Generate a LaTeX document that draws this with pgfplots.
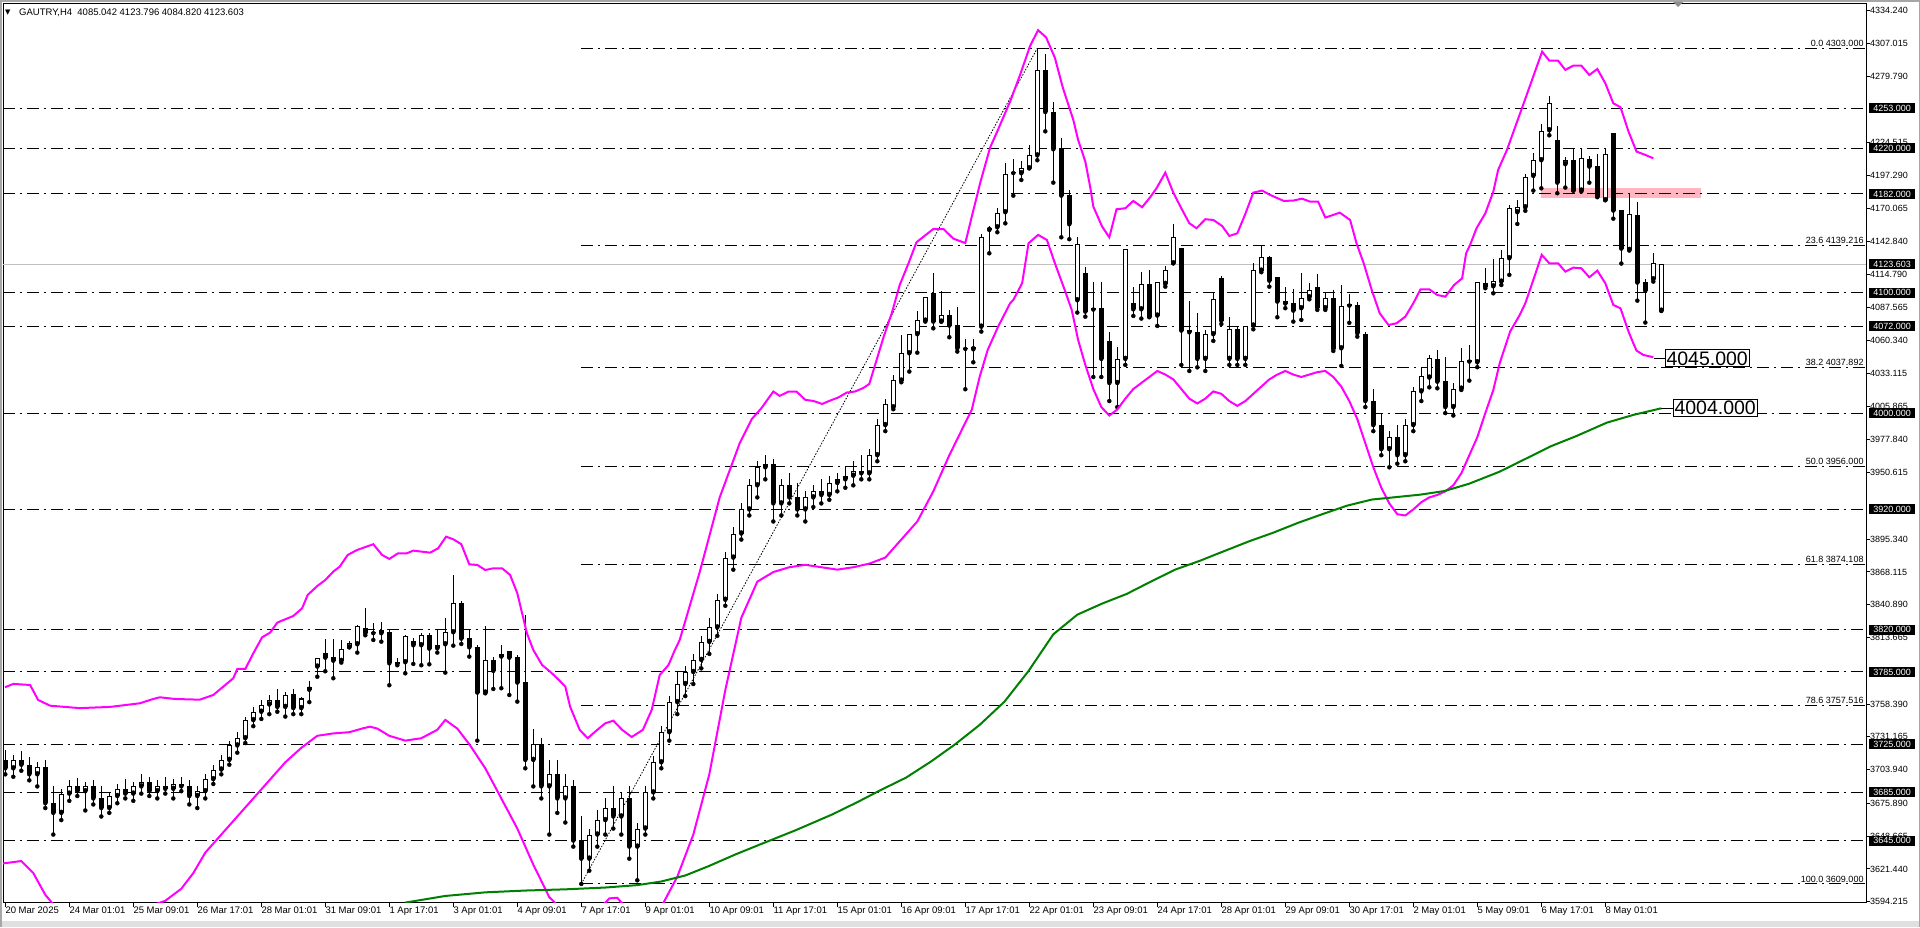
\documentclass[border=0pt]{standalone}
\usepackage{fontspec}
\setmainfont{Liberation Sans}
\newfontfamily\dejavu{DejaVu Sans}
\usepackage{pgfplots}
\usepackage{pgfplotstable}
\pgfplotsset{compat=1.18}
\definecolor{bandmag}{RGB}{255,0,255}
\definecolor{magreen}{RGB}{0,128,0}
\definecolor{zonepink}{RGB}{255,182,193}
\definecolor{bidgray}{RGB}{192,192,192}

\pgfplotstableread{
i o h l c
0 3712 3720 3700 3705
1 3705 3716 3698 3712
2 3712 3719 3703 3708
3 3708 3714 3695 3700
4 3700 3710 3690 3706
5 3706 3712 3672 3676
6 3676 3690 3650 3668
7 3668 3688 3662 3684
8 3684 3695 3678 3690
9 3690 3697 3682 3686
10 3686 3694 3670 3690
11 3690 3695 3675 3680
12 3680 3690 3665 3672
13 3672 3685 3668 3682
14 3682 3692 3676 3688
15 3688 3696 3680 3684
16 3684 3694 3678 3690
17 3690 3700 3684 3694
18 3694 3698 3682 3686
19 3686 3695 3680 3690
20 3690 3698 3684 3688
21 3688 3696 3680 3692
22 3692 3698 3686 3690
23 3690 3695 3675 3682
24 3682 3690 3672 3686
25 3686 3700 3680 3696
26 3696 3708 3692 3704
27 3704 3716 3700 3712
28 3712 3728 3708 3724
29 3724 3735 3718 3730
30 3730 3748 3726 3745
31 3745 3756 3740 3752
32 3752 3762 3746 3758
33 3758 3766 3750 3762
34 3762 3771 3752 3756
35 3756 3768 3748 3766
36 3767 3771 3750 3755
37 3755 3764 3750 3763
38 3770.3 3777.6 3760 3772.3
39 3789.5 3796.4 3781.1 3796.4
40 3800.5 3812.2 3785.6 3796.9
41 3797.8 3812.2 3779.8 3794.4
42 3794.2 3811.6 3792.8 3803.9
43 3805.5 3810.8 3805.5 3809.1
44 3808.0 3824.1 3801.1 3822.9
45 3821.6 3837.9 3815.5 3817.2
46 3817.2 3826.0 3811.6 3817.4
47 3817.2 3826.8 3810.2 3819.9
48 3818.5 3820.5 3774.0 3792.2
49 3793.6 3796.9 3790.6 3791.7
50 3793.1 3815.8 3783.9 3814.9
51 3810.8 3813.6 3791.7 3807.2
52 3807.2 3817.7 3790.6 3815.5
53 3815.5 3817.7 3791.4 3804.4
54 3804.7 3820.5 3801.1 3807.2
55 3808.0 3829.6 3784.5 3818.0
56 3818.0 3865.6 3806.9 3842.1
57 3842.1 3844.0 3808.3 3812.7
58 3813.3 3820.5 3797.8 3805.5
59 3805.5 3807.5 3728 3767.9
60 3767.9 3823.5 3767.3 3795.0
61 3795.0 3797.8 3770.9 3785.9
62 3799.7 3807.5 3771.5 3797.8
63 3802.5 3802.5 3765.9 3796.9
64 3797.5 3799.1 3760.4 3776.2
65 3776.7 3832.4 3705 3712
66 3712 3738 3690 3725
67 3725 3730 3680 3690
68 3690 3712 3650 3700
69 3700 3712 3668 3680
70 3680 3700 3660 3690
71 3690 3695 3640 3645
72 3645 3665 3609 3630
73 3630 3655 3620 3650
74 3650 3670 3640 3662
75 3662 3680 3650 3672
76 3672 3690 3655 3665
77 3665 3685 3650 3680
78 3680 3690 3630 3640
79 3640 3660 3612 3655
80 3655 3690 3650 3685
81 3685 3715 3680 3710
82 3710 3740 3705 3735
83 3735 3765 3728 3760
84 3760 3785 3750 3775
85 3775 3790 3765 3785
86 3785 3800 3775 3795
87 3795 3815 3788 3810
88 3810 3830 3800 3822
89 3822 3850 3815 3845
90 3845 3885 3840 3880
91 3880 3905 3870 3900
92 3900 3925 3895 3920
93 3920 3945 3915 3940
94 3940 3960 3930 3955
95 3955 3965 3945 3958
96 3958 3962 3910 3925
97 3925 3945 3915 3940
98 3940 3950 3925 3930
99 3930 3942 3915 3920
100 3920 3935 3910 3930
101 3930 3940 3922 3935
102 3935 3945 3925 3932
103 3932 3948 3928 3942
104 3942 3950 3935 3945
105 3945 3955 3938 3948
106 3948 3960 3940 3952
107 3952 3965 3945 3950
108 3950 3970 3945 3965
109 3965 3995 3960 3990
110 3990 4011.5 3985 4007.3
111 4004.8 4031.7 4003.2 4027.2
112 4027.0 4064.9 4025.6 4049.7
113 4049.7 4065.5 4034.5 4065.5
114 4065.5 4084.8 4050.2 4077.1
115 4076.8 4096.2 4076.0 4096.2
116 4099.8 4116.1 4070.4 4076.0
117 4076.0 4101.5 4076.0 4081.2
118 4081.2 4085.4 4063.0 4072.7
119 4072.9 4087.9 4051.1 4053.8
120 4053.3 4061.3 4019.8 4053.5
121 4053.0 4061.3 4042.2 4055.2
122 4071.8 4148.8 4067.7 4146.6
123 4152.1 4155.4 4132.7 4154.0
124 4154.3 4170.1 4150.2 4166.5
125 4166.8 4207.5 4157.6 4198.3
126 4199.3 4210.8 4180.6 4199.7
127 4199.2 4209.1 4193.6 4203.3
128 4203.3 4222.7 4203.3 4214.1
129 4214 4303 4210 4285
130 4285 4298 4234 4250
131 4250 4258 4191.4 4219.1
132 4219.1 4228.2 4146.0 4180.6
133 4181.2 4185 4144.4 4156.8
134 4093.7 4146.0 4083.5 4140.2
135 4116.1 4121.7 4080.1 4084.3
136 4086.5 4108.6 4030 4086.0
137 4087.1 4108.6 4030 4045
138 4060 4067.7 4010 4025
139 4025 4055 4005 4045
140 4045 4136.1 4040 4136.1
141 4091.5 4105.0 4080.7 4086.2
142 4086.2 4117.0 4078.5 4107.0
143 4107.0 4118.9 4079.6 4080.1
144 4081.0 4108.7 4072.4 4108.7
145 4107.3 4122.2 4105.0 4118.6
146 4124.4 4156.8 4124.4 4146.0
147 4137.4 4137.4 4040 4068.5
148 4069.1 4093.2 4035 4067.1
149 4067.4 4083.5 4038 4045
150 4045 4069.1 4035 4065.5
151 4065.5 4099.5 4060 4094.8
152 4112.0 4113.9 4074.0 4076.8
153 4045 4079.9 4040 4069.6
154 4069.6 4072 4040 4045
155 4045 4072.4 4040 4072.4
156 4072.7 4124.4 4069.6 4118.6
157 4118.3 4139.4 4117.0 4129.4
158 4129.7 4130.5 4105.0 4110.0
159 4112.8 4112.8 4079.6 4092.6
160 4093.2 4105.0 4087.1 4091.0
161 4091.5 4102.8 4076.0 4085.1
162 4087.1 4116.1 4077.4 4095.4
163 4096.2 4108.4 4094.5 4102.0
164 4104.5 4115.6 4085.7 4087.6
165 4087.1 4100.9 4085.7 4095.4
166 4095.4 4102.3 4051.6 4053.3
167 4053.8 4106.4 4039.2 4088.7
168 4089.3 4099.0 4075.0 4089.6
169 4089.5 4092.3 4063.5 4066.3
170 4065.7 4067.1 4005 4010
171 4010 4020 3985 3990
172 3990 4000 3965 3970
173 3970 3985 3955 3980
174 3980 3990 3958 3965
175 3965 3995 3960 3990
176 3990 4022 3985 4018
177 4018 4038.1 4010 4030.6
178 4029.5 4048.3 4021.4 4045.6
179 4044.7 4052.2 4020.6 4026.1
180 4027.0 4046.6 4000 4005
181 4005 4025 3998 4020
182 4020.3 4053.8 4019.2 4043.0
183 4042.8 4056.6 4027.0 4043.0
184 4042.2 4108.6 4038.1 4108.6
185 4107.8 4120.6 4103.7 4105.0
186 4105.3 4128.0 4099.5 4109.5
187 4109.2 4135.5 4106.4 4128.6
188 4128.6 4172.9 4114.8 4170.1
189 4166.8 4177.0 4157.1 4170.9
190 4170.9 4198.6 4168.0 4195.9
191 4197.0 4215.8 4184.8 4210.0
192 4210.0 4240.2 4186.7 4234.1
193 4234.9 4263.4 4230.7 4257.3
194 4226.9 4238.5 4182.6 4191.4
195 4206.7 4213.0 4187.3 4210.0
196 4210.0 4219.9 4184.8 4184.8
197 4184.8 4219.9 4184.0 4211.9
198 4211.1 4213.6 4191.4 4204.7
199 4205.3 4215.0 4179.3 4179.8
200 4176.8 4219.9 4176.8 4215.0
201 4232.4 4232.4 4161.5 4168.2
202 4168.5 4168.5 4124.2 4136.6
203 4135.5 4182.6 4135.0 4165.1
204 4164.3 4175.1 4093.4 4108.4
205 4108.7 4111.4 4075.2 4101.7
206 4111.1 4132.7 4109.2 4124.4
207 4085.042 4123.796 4084.820 4123.603
}\ohlc

\pgfplotstableread{
i p
-0.04 3772.3
1.0 3775.1
3.1 3774.2
4.1 3761.8
5.6 3757
9.3 3755
13.1 3756
16.8 3759
18.3 3762.2
19.3 3764.0
21.2 3762.6
24.3 3762.0
26.0 3765.9
28.5 3779.8
29.0 3787.5
30.0 3787.5
31.0 3800.5
32.1 3813.8
33.1 3817.7
34.0 3826.0
34.6 3827.7
36.0 3831.5
37.1 3837.9
37.8 3849.0
39.0 3856.4
40.0 3861.4
41.0 3868.4
41.8 3872.5
42.8 3882.2
44.0 3886.4
46.0 3891.1
47.1 3882.2
48.0 3878.9
49.1 3883.6
50.2 3883.6
51.0 3885.8
53.1 3884.1
54.1 3887.7
55.1 3897.4
56.0 3895.2
57.0 3891.1
58.0 3874.4
59.0 3873.9
60.0 3869.7
61.0 3871.1
62.1 3871.1
63.1 3865.6
64.0 3850.4
64.6 3833.8
65.2 3817.2
66.0 3803.3
67.1 3790.8
68.1 3785.3
69.1 3779.0
70.0 3772.9
70.6 3756.2
71.2 3746.6
71.8 3736.9
72.8 3730
74.0 3737
75.0 3742.4
76.0 3744.6
77.1 3737
78.3 3731
79.7 3737
80.8 3753.5
81.8 3782.5
82.9 3790.8
83.7 3803.3
84.3 3811.6
86.8 3868
89.3 3930
91.8 3975
93.3 3995
94.5 4004.0
96.0 4017.9
96.8 4014.3
97.9 4017.9
98.9 4017.9
100.0 4011.0
101.0 4010.1
102.1 4007.6
103.1 4010.4
104.1 4012.9
105.2 4017.1
106.2 4017.9
107.2 4020.7
108.0 4024.2
109.8 4063.5
110.8 4082.8
111.8 4106.4
112.9 4124.4
113.9 4141.9
116.0 4152.9
117.3 4152.7
118.5 4144.9
120.0 4141.2
121.0 4168.3
121.9 4192.2
123.1 4220.5
124.1 4235.5
125.6 4258.8
126.8 4280
128.1 4305
129.1 4318
130.1 4312
131.2 4295
132.2 4270
133.5 4243.5
134.1 4226.9
135.0 4208.9
135.6 4188.1
136.0 4171.5
137.1 4154.9
138.0 4146.0
138.9 4169.3
140.0 4170.1
141.0 4176.2
142.1 4171.0
143.1 4179.2
143.9 4186.7
145.0 4199.7
146.0 4183.1
147.0 4170.1
148.0 4157.7
148.9 4153.5
150.0 4161.0
151.0 4160.4
152.1 4155.4
153.0 4147.1
154.0 4149.3
155.0 4165.4
156.0 4183.1
157.1 4184.8
158.1 4181.2
159.8 4176.2
161.0 4176.5
162.1 4178.1
163.1 4175.6
164.1 4175.6
165.0 4162.4
166.0 4164.6
166.8 4166.5
168.1 4160.4
168.9 4141.0
169.8 4124.4
170.8 4102.3
171.8 4082.9
172.9 4073.2
173.9 4074.6
175.0 4080.1
176.0 4091.2
176.9 4102.8
178.0 4102.8
179.0 4098.1
180.0 4096.7
181.1 4106.4
182.1 4111.9
182.6 4132.7
183.1 4139.7
183.9 4153.5
185.0 4165.9
186.0 4183.9
186.6 4201.9
187.7 4218.5
189.8 4257.3
192.1 4300.2
193.0 4292.7
194.1 4292.7
195.0 4285.0
196.0 4288.6
197.0 4288.6
198.0 4280.8
199.0 4285.8
200.0 4273.9
201.0 4257.3
201.9 4254.0
202.9 4233.8
203.9 4217.2
205.0 4214.4
206.0 4211.6
}\upperband

\pgfplotstableread{
i p
-0.3 3626
2 3628
3.5 3618
5 3600
6.5 3588
9 3583
13 3585
17 3588
20 3595
22 3605
23.5 3618
25 3635
27 3650
29 3665
31 3680
33 3695
35 3710
37 3722
39 3732
41 3734
43 3735
44.7 3738.2
45.6 3739.6
46.5 3738
48 3732
50 3728
52 3730
54 3737
55 3745.2
56.5 3738
58 3725
60 3705
62 3680
64 3655
66 3625
68 3598
70 3585
72 3580
74 3586
75.5 3597
76.5 3597.5
78 3586
80 3578
82 3590
84 3615
86 3650
88 3700
90 3770
92 3830
94 3860
96 3868
98 3872
100 3874
102 3872
104 3870
106 3872
108 3875
110 3880
112 3895
114 3910
116 3935
118 3965
120 3992
120.8 4002.6
121.8 4030.3
122.8 4052.5
124.1 4071.8
125.6 4091.2
126.0 4094.0
127.1 4107.8
127.9 4141.0
129.1 4148.0
130.2 4143.8
131.2 4124.4
132.5 4100.9
133.3 4085.7
134.1 4060.8
135 4040
136 4020
137 4005
138 3998
139 4003
140 4012
141 4020
142 4025
143 4030
144 4035
145 4032
146 4028
147 4020
148 4012
149 4008
150 4012
151 4018
152 4016
153 4010
154 4006
155 4010
156 4016
157 4022
158 4028
159 4032
160 4035
161 4032
162 4030
163 4032
164 4034
165 4035
166 4030
167 4022
168 4010
169 3995
170 3975
171 3955
172 3938
173 3925
174 3916
175 3915
176 3920
177 3926
178 3930
179 3932
180 3935
181 3940
182 3950
183 3965
184 3980
185 4000
186 4019.2
186.8 4041.4
188.1 4067.7
189.3 4081.5
190.0 4091.2
191.0 4110.6
192.05 4131.4
193.0 4124.4
194.1 4124.4
195.0 4117.5
196.0 4120.8
197.0 4120.3
198.0 4112.8
199.0 4118.3
200.0 4107.8
201.0 4089.8
201.9 4087.0
202.9 4067.7
203.5 4058.0
203.9 4051.9
204.75 4048.3
206.0 4046.4
}\lowerband

\pgfplotstableread{
i p
50.0 3593.5
55.0 3599.0
60.0 3602.0
65.0 3603.5
70.0 3604.5
75.0 3606.0
79.0 3608.0
82.0 3611.0
85.0 3616.0
88.0 3624.0
91.2 3633.3
94.2 3641.4
98.8 3653.6
103.4 3666.8
106.5 3676.9
109.5 3687.2
112.6 3697.3
115.7 3710.6
118.7 3724.8
121.8 3741.1
124.9 3760.4
127.9 3785.8
131.0 3816.3
134.0 3832.6
137.1 3841.8
140.2 3849.9
143.2 3860.1
146.3 3870.2
149.3 3877.3
152.4 3885.5
155.5 3893.6
158.5 3900.7
161.6 3908.9
164.6 3916.0
167.7 3923.1
170.8 3928.2
173.8 3930.2
176.9 3932.3
179.9 3935.3
183.0 3941.4
186.8 3951.4
191.0 3965.2
193.1 3972.2
196.4 3981.0
200.2 3992.1
203.5 3998.5
207.0 4004.0
}\mavg

\tikzset{
  lvl/.style={black, line width=1pt, dash pattern=on 12pt off 5pt on 2pt off 5pt},
  boxlab/.style={fill=black, text=white, inner sep=0pt, minimum width=46pt, minimum height=10pt,
    font=\fontsize{9}{9}\selectfont, anchor=west, xshift=3pt},
  fiblab/.style={anchor=south east, inner sep=0pt, yshift=1.5pt, font=\fontsize{9}{9}\selectfont},
  biglab/.style={anchor=west, draw=black, line width=1pt, fill=white, inner sep=1.5pt,
    font=\fontsize{19.5}{20}\selectfont}
}

\begin{document}
\begin{tikzpicture}[x=1pt,y=1pt]
\fill[white] (0,0) rectangle (1920,927);
\fill[black!12] (0,0) rectangle (1920,6);
\fill[black!35] (0,925) rectangle (1920,927);
\fill[black!35] (0,0) rectangle (1.5,927);
\fill[black!35] (1918.5,0) rectangle (1920,927);
\useasboundingbox (0,0) rectangle (1920,927);
\begin{axis}[at={(3pt,24pt)}, anchor=south west, scale only axis,
  width=1863pt, height=899pt,
  xmin=-0.2875, xmax=232.5875, ymin=3593.2, ymax=4339.8,
  axis line style={line width=1pt}, clip mode=individual,
  tick align=outside, xtick pos=bottom, ytick pos=right, yticklabel pos=right,
  major tick length=4pt, tick style={black, line width=1pt},
  xtick={0,8,...,200},
  xticklabels={20 Mar 2025,24 Mar 01:01,25 Mar 09:01,26 Mar 17:01,28 Mar 01:01,31 Mar 09:01,1 Apr 17:01,3 Apr 01:01,4 Apr 09:01,7 Apr 17:01,9 Apr 01:01,10 Apr 09:01,11 Apr 17:01,15 Apr 01:01,16 Apr 09:01,17 Apr 17:01,22 Apr 01:01,23 Apr 09:01,24 Apr 17:01,28 Apr 01:01,29 Apr 09:01,30 Apr 17:01,2 May 01:01,5 May 09:01,6 May 17:01,8 May 01:01},
  x tick label style={anchor=north west, inner sep=0pt, xshift=0pt, font=\fontsize{9.5}{10}\selectfont},
  ytick={3594.215,3621.44,3648.665,3675.89,3703.94,3731.165,3758.39,3813.665,3840.89,3868.115,3895.34,3950.615,3977.84,4005.865,4033.115,4060.34,4087.565,4114.79,4142.84,4170.065,4197.29,4224.515,4279.79,4307.015,4334.24},
  yticklabels={3594.215,3621.440,3648.665,3675.890,3703.940,3731.165,3758.390,3813.665,3840.890,3868.115,3895.340,3950.615,3977.840,4005.865,4033.115,4060.340,4087.565,4114.790,4142.840,4170.065,4197.290,4224.515,4279.790,4307.015,4334.240},
  y tick label style={anchor=west, inner sep=0pt, font=\fontsize{9}{10}\selectfont},
]
% zone
\addplot[fill=zonepink, draw=none, forget plot] coordinates {(191.9,4178.7) (212,4178.7) (212,4187) (191.9,4187)} -- cycle;
% bid line
\addplot[bidgray, line width=1pt, forget plot] coordinates {(-0.3,4123.603) (232.6,4123.603)};
% horizontal levels
\foreach \v in {4253,4220,4182,4100,4072,4000,3920,3820,3785,3725,3685,3645} {
  \edef\tmp{\noexpand\addplot[lvl, forget plot] coordinates {(-0.3,\v) (232.6,\v)};}\tmp
}
% fibo levels
\foreach \v in {4303,4139.216,4037.892,3956,3874.108,3757.516,3609} {
  \edef\tmp{\noexpand\addplot[lvl, forget plot] coordinates {(72,\v) (232.6,\v)};}\tmp
}
\addplot[black, line width=0.8pt, dash pattern=on 1.5pt off 1.5pt, forget plot] coordinates {(72,3609) (129,4303)};
% wicks
\addplot[only marks, mark=none, forget plot,
  error bars/.cd, y dir=plus, y explicit, error mark=none,
  error bar style={line width=1pt, black}]
  table[x=i, y=l, y error plus expr={\thisrow{h}-\thisrow{l}}] {\ohlc};
% bodies outline
\addplot[only marks, mark=none, forget plot,
  error bars/.cd, y dir=plus, y explicit, error mark=none,
  error bar style={line width=5pt, black}]
  table[x=i, y expr={min(\thisrow{o},\thisrow{c})}, y error plus expr={max(abs(\thisrow{c}-\thisrow{o}),0.9)}] {\ohlc};
% bullish interior
\addplot[only marks, mark=none, forget plot,
  error bars/.cd, y dir=plus, y explicit, error mark=none,
  error bar style={line width=3pt, white}]
  table[x=i, y expr={(\thisrow{c}-\thisrow{o}>1.8) ? (\thisrow{o}+0.85) : 0}, y error plus expr={(\thisrow{c}-\thisrow{o}>1.8) ? (\thisrow{c}-\thisrow{o}-1.7) : 0}] {\ohlc};
% indicators
\addplot[bandmag, line width=2pt, forget plot] table[x=i, y=p] {\upperband};
\addplot[bandmag, line width=2pt, forget plot] table[x=i, y=p] {\lowerband};
\addplot[magreen, line width=2pt, forget plot] table[x=i, y=p] {\mavg};
% right-hand price boxes
\foreach \v/\t in {4253/4253.000,4220/4220.000,4182/4182.000,4123.603/4123.603,4100/4100.000,4072/4072.000,4000/4000.000,3920/3920.000,3820/3820.000,3785/3785.000,3725/3725.000,3685/3685.000,3645/3645.000} {
  \edef\tmp{\noexpand\node[boxlab] at (axis cs:232.5875,\v) {\t};}\tmp
}
% fibo labels
\node[fiblab] at (axis cs:232.3,4303) {0.0 4303.000};
\node[fiblab] at (axis cs:232.3,4139.216) {23.6 4139.216};
\node[fiblab] at (axis cs:232.3,4037.892) {38.2 4037.892};
\node[fiblab] at (axis cs:232.3,3956) {50.0 3956.000};
\node[fiblab] at (axis cs:232.3,3874.108) {61.8 3874.108};
\node[fiblab] at (axis cs:232.3,3757.516) {78.6 3757.516};
\node[fiblab] at (axis cs:232.3,3609) {100.0 3609.000};
% big labels
\draw[black, line width=1pt] (axis cs:206.1,4045.5) -- (axis cs:207.4,4045.5) node[biglab] {4045.000};
\draw[black, line width=1pt] (axis cs:207.0,4004.0) -- (axis cs:208.4,4004.0) node[biglab] {4004.000};
\end{axis}
\node[anchor=west, inner sep=0pt] at (5,914.5) {\dejavu\fontsize{7}{7}\selectfont ▼};
\node[anchor=west, inner sep=0pt, font=\fontsize{9.5}{10}\selectfont] at (19,914.3) {GAUTRY,H4\ \ 4085.042 4123.796 4084.820 4123.603};
\fill[black!45] (1673,925) -- (1683,925) -- (1678,920) -- cycle;
\end{tikzpicture}
\end{document}
